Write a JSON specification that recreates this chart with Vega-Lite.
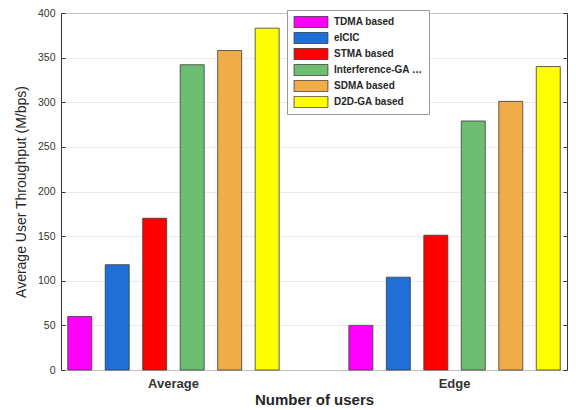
{
  "$schema": "https://vega.github.io/schema/vega-lite/v6.json",
  "autosize": "none",
  "width": 506,
  "height": 357,
  "padding": {"left": 61, "top": 13, "right": 9, "bottom": 40},
  "background": "white",
  "config": {
    "font": "Liberation Sans",
    "view": {"stroke": "#333333", "strokeWidth": 1}
  },
  "data": {
    "values": [
      {"group": "Average", "scheme": "TDMA based", "value": 60},
      {"group": "Average", "scheme": "eICIC", "value": 118},
      {"group": "Average", "scheme": "STMA based", "value": 170},
      {"group": "Average", "scheme": "Interference-GA based", "value": 342},
      {"group": "Average", "scheme": "SDMA based", "value": 358},
      {"group": "Average", "scheme": "D2D-GA based", "value": 383},
      {"group": "Edge", "scheme": "TDMA based", "value": 50},
      {"group": "Edge", "scheme": "eICIC", "value": 104},
      {"group": "Edge", "scheme": "STMA based", "value": 151},
      {"group": "Edge", "scheme": "Interference-GA based", "value": 279},
      {"group": "Edge", "scheme": "SDMA based", "value": 301},
      {"group": "Edge", "scheme": "D2D-GA based", "value": 340}
    ]
  },
  "encoding": {
    "x": {
      "field": "group",
      "type": "nominal",
      "sort": ["Average", "Edge"],
      "scale": {"paddingInner": 0.2, "paddingOuter": 0},
      "axis": {
        "title": "Number of users",
        "titleFontSize": 15,
        "titleFontWeight": "bold",
        "titleColor": "#262626",
        "titlePadding": 2,
        "labelAngle": 0,
        "labelFontSize": 13,
        "labelFontWeight": "bold",
        "labelColor": "#333333",
        "labelPadding": 7,
        "ticks": false,
        "domain": false,
        "grid": false
      }
    },
    "xOffset": {
      "field": "scheme",
      "type": "nominal",
      "sort": ["TDMA based", "eICIC", "STMA based", "Interference-GA based", "SDMA based", "D2D-GA based"],
      "scale": {"paddingInner": 0.36, "paddingOuter": 0.18}
    }
  },
  "layer": [
    {
      "mark": {"type": "bar", "stroke": "#3a3a3a", "strokeWidth": 0.8},
      "encoding": {
        "y": {
          "field": "value",
          "type": "quantitative",
          "scale": {"domain": [0, 400], "nice": false},
          "axis": {
            "title": "Average User Throughput (M/bps)",
            "titleFontSize": 14,
            "titleFontWeight": "normal",
            "titleColor": "#262626",
            "titlePadding": 9,
            "values": [0, 50, 100, 150, 200, 250, 300, 350, 400],
            "labelFontSize": 10.5,
            "labelFontWeight": "normal",
            "labelColor": "#333333",
            "labelPadding": 10,
            "tickSize": -4,
            "tickColor": "#333333",
            "domain": false,
            "grid": true,
            "gridColor": "#e6e6e6",
            "gridWidth": 0.8
          }
        },
        "color": {
          "field": "scheme",
          "type": "nominal",
          "sort": ["TDMA based", "eICIC", "STMA based", "Interference-GA based", "SDMA based", "D2D-GA based"],
          "scale": {
            "domain": ["TDMA based", "eICIC", "STMA based", "Interference-GA based", "SDMA based", "D2D-GA based"],
            "range": ["#ff00ff", "#1f6fd6", "#ff0000", "#6dbe72", "#f0ac48", "#ffff00"]
          },
          "legend": {
            "title": null,
            "orient": "none",
            "legendX": 226,
            "legendY": -3,
            "symbolType": "M-1.5,-0.5H1.5V0.5H-1.5Z",
            "symbolSize": 510,
            "symbolOffset": 6,
            "symbolStrokeColor": "#3a3a3a",
            "symbolStrokeWidth": 0.8,
            "symbolOpacity": 1,
            "labelFontSize": 10,
            "labelFontWeight": "bold",
            "labelColor": "#262626",
            "labelLimit": 90,
            "rowPadding": 4,
            "labelOffset": 11,
            "padding": 6,
            "strokeColor": "#999999",
            "fillColor": "white",
            "clipHeight": 12
          }
        }
      }
    },
    {
      "mark": {"type": "bar", "opacity": 0},
      "encoding": {
        "y": {
          "field": "value",
          "type": "quantitative",
          "axis": {
            "orient": "right",
            "title": null,
            "labels": false,
            "values": [0, 50, 100, 150, 200, 250, 300, 350, 400],
            "tickSize": -4,
            "tickColor": "#333333",
            "domain": false,
            "grid": false
          }
        }
      }
    }
  ],
  "resolve": {"axis": {"y": "independent"}}
}
